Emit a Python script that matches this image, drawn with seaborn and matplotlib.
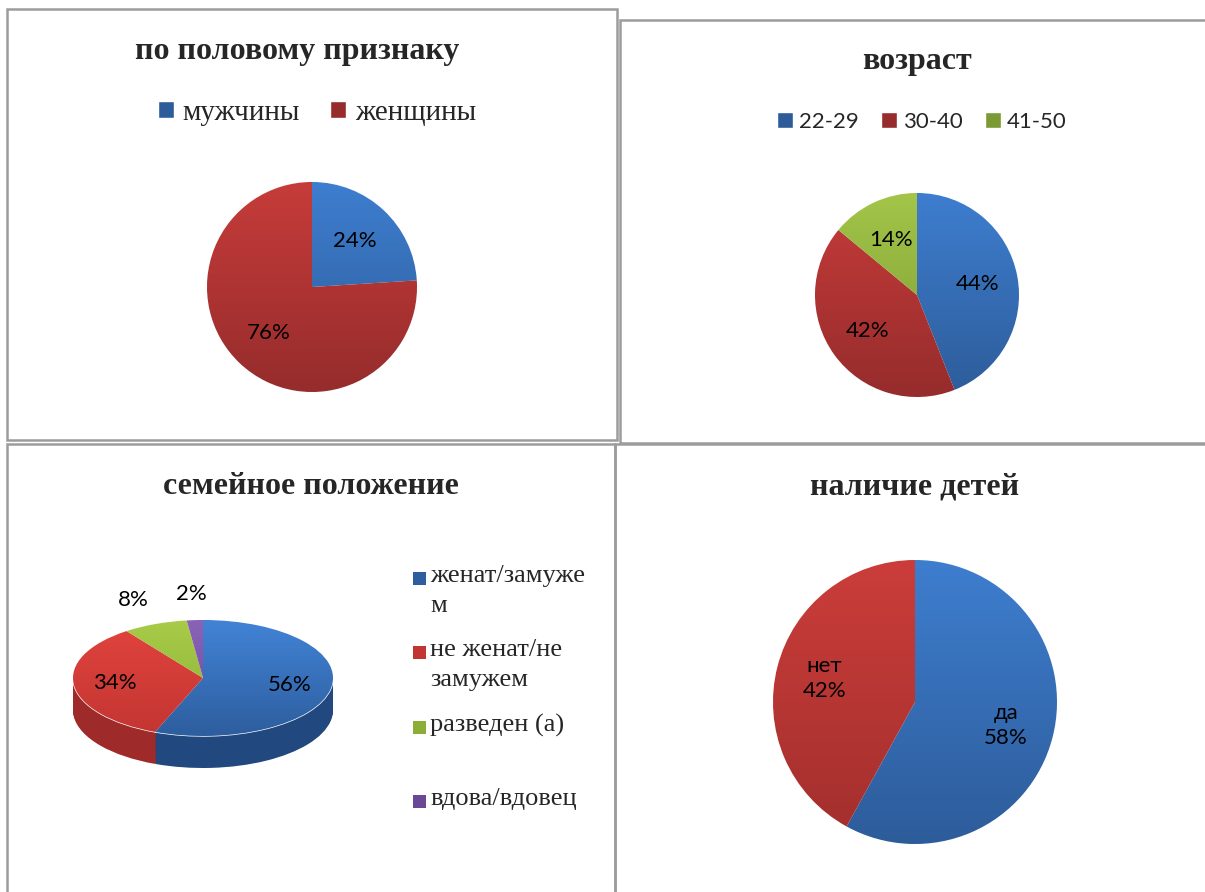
import numpy as np
import matplotlib
matplotlib.use("Agg")
import matplotlib.pyplot as plt
import seaborn as sns
from matplotlib.colors import LinearSegmentedColormap
from matplotlib.patches import Rectangle, Patch

# --- data ---
gender_labels = ["мужчины", "женщины"]
gender_values = [24, 76]

age_labels = ["22-29", "30-40", "41-50"]
age_values = [44, 42, 14]

family_labels = ["женат/замуже\nм", "не женат/не\nзамужем", "разведен (а)", "вдова/вдовец"]
family_values = [56, 34, 8, 2]

children_labels = ["да", "нет"]
children_values = [58, 42]

titles = ["по половому признаку", "возраст", "семейное положение", "наличие детей"]

# colours (light top -> dark bottom)
BLUE = ("#3E7ECF", "#2D5C9A")
RED = ("#C63C3A", "#962C2C")
RED_LIGHT = ("#CB3D3A", "#A22F2D")
GREEN = ("#A3C548", "#7C9A34")

sns.set_theme(style="white")
plt.rcParams["font.family"] = ["Liberation Serif", "DejaVu Serif"]
SERIF = ["Liberation Serif", "DejaVu Serif"]
SANS = ["Lato", "DejaVu Sans"]

W, H = 1205, 892
fig = plt.figure(figsize=(W / 100, H / 100), dpi=100)
fig.patch.set_facecolor("white")


def px_axes(x0, y0, x1, y1):
    return fig.add_axes([x0 / W, 1 - y1 / H, (x1 - x0) / W, (y1 - y0) / H])


def frame(x0, y0, x1, y1):
    fig.patches.append(Rectangle((x0 / W, 1 - y1 / H), (x1 - x0) / W, (y1 - y0) / H,
                                 transform=fig.transFigure, fill=False,
                                 ec="#9c9c9c", lw=1.8))


def title(x, y, s):
    fig.text(x / W, 1 - y / H, s, ha="center", va="center", fontsize=23,
             fontweight="bold", family=SERIF)


def shade(ax, wedges, pairs, y0=-1.0, y1=1.0):
    ramp = np.linspace(0, 1, 256).reshape(-1, 1)
    for w, (ct, cb) in zip(wedges, pairs):
        cmap = LinearSegmentedColormap.from_list("g", [cb, ct])
        im = ax.imshow(ramp, cmap=cmap, extent=(-1.6, 1.6, y0, y1), origin="lower",
                       aspect="auto", zorder=2)
        im.set_clip_path(w)


def flat_pie(ax, values, pairs, pctdist, fontsize=16):
    wedges, _, autos = ax.pie(values, startangle=90, counterclock=False,
                              colors=[p[1] for p in pairs],
                              autopct=lambda p: f"{p:.0f}%", pctdistance=pctdist,
                              textprops=dict(family=SANS, fontsize=fontsize, color="black"))
    shade(ax, wedges, pairs)
    for a in autos:
        a.set_zorder(4)
    ax.set_xlim(-1, 1)
    ax.set_ylim(-1, 1)
    ax.set_aspect("auto")
    ax.axis("off")
    return wedges, autos


# frames
frame(7, 9, 617, 440)
frame(620, 20, 1212, 443)
frame(7, 444, 615, 900)
frame(615, 444, 1212, 900)

# --- 1. gender ---
ax1 = px_axes(207, 182, 417, 392)
flat_pie(ax1, gender_values, [BLUE, RED], 0.6)
title(297, 52, titles[0])
fig.legend([Patch(fc=c[1]) for c in (BLUE, RED)], gender_labels, ncol=2,
           loc="center", bbox_to_anchor=(317 / W, 1 - 113 / H), frameon=False,
           prop=dict(family=SERIF, size=21), handlelength=0.55, handleheight=0.55,
           handletextpad=0.28, columnspacing=1.05)

# --- 2. age ---
ax2 = px_axes(815, 193, 1019, 397)
flat_pie(ax2, age_values, [BLUE, RED, GREEN], 0.6)
title(917, 62, titles[1])
fig.legend([Patch(fc=c[1]) for c in (BLUE, RED, GREEN)], age_labels, ncol=3,
           loc="center", bbox_to_anchor=(922 / W, 1 - 122 / H), frameon=False,
           prop=dict(family=SANS, size=16), handlelength=0.72, handleheight=0.72,
           handletextpad=0.27, columnspacing=1.0)

# --- 3. family status (3-D look) ---
fam_top = [("#4283D6", "#2D5E9E"), ("#E2443E", "#C33532"),
           ("#A8CC48", "#8AAE36"), ("#8A63B8", "#6A4797")]
fam_side = ["#21497F", "#9E2B29", "#6F8B2B", "#553A7C"]
ry_px, depth_px, cy_px = 58, 32, 678
ax3 = px_axes(73, 574, 333, 775)
depth = depth_px / ry_px
for k in np.linspace(depth, 0.02, 40):
    ax3.pie(family_values, startangle=90, counterclock=False, colors=fam_side,
            center=(0, -k), wedgeprops=dict(lw=0))
wedges3, _, autos3 = ax3.pie(family_values, startangle=90, counterclock=False,
                             colors=[c[1] for c in fam_top],
                             autopct=lambda p: f"{p:.0f}%",
                             textprops=dict(family=SANS, fontsize=16, color="black"))
shade(ax3, wedges3, fam_top)
for w, a, v in zip(wedges3, autos3, family_values):
    mid = np.deg2rad((w.theta1 + w.theta2) / 2)
    r = 1.45 if v < 10 else 0.68
    a.set_position((r * np.cos(mid), r * np.sin(mid)))
    a.set_zorder(4)
ax3.set_xlim(-1, 1)
ax3.set_ylim(-(775 - cy_px) / ry_px, (cy_px - 574) / ry_px)
ax3.set_aspect("auto")
ax3.axis("off")
title(311, 487, titles[2])

# legend drawn entry by entry (marker sits on first text line)
for i, (lab, (ct, cb)) in enumerate(zip(family_labels, fam_top)):
    y = 578 + i * 74.5
    fig.patches.append(Rectangle((413 / W, 1 - (y + 6.5) / H), 13 / W, 13 / H,
                                 transform=fig.transFigure, fc=cb, ec="none"))
    fig.text(430 / W, 1 - (y - 13) / H, lab, ha="left", va="top", fontsize=19,
             family=SERIF, linespacing=1.45)

# --- 4. children ---
ax4 = px_axes(773, 560, 1057, 844)
w4, autos4 = flat_pie(ax4, children_values, [BLUE, RED_LIGHT], 0.66)
for a, name in zip(autos4, children_labels):
    a.set_text(f"{name}\n{a.get_text()}")
    a.set_linespacing(1.3)
title(915, 487, titles[3])

fig.savefig("out.png", dpi=100, facecolor="white")
